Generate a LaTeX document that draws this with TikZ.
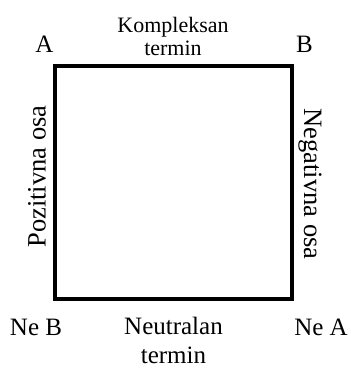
\documentclass[tikz,border=0pt]{standalone}
\usepackage{fontspec}
\setmainfont{Liberation Serif}
\usetikzlibrary{positioning}

\begin{document}
\begin{tikzpicture}[x=1pt,y=-1pt,
    corner/.style={inner sep=0pt,anchor=base,font=\fontsize{25}{30}\selectfont},
    term/.style={inner sep=0pt,anchor=base,align=center},
    axis/.style={inner sep=0pt,font=\fontsize{26.5}{30}\selectfont}]
  \useasboundingbox (0,0) rectangle (351,368);
  % the square
  \coordinate (nw) at (55,66);
  \coordinate (se) at (292,299);
  \draw[line width=4pt] (nw) rectangle (se);
  % corners
  \node[corner] (a) at (44.5,52) {A};
  \node[corner] (b) at (304.5,52) {B};
  \node[corner] (neb) at (36,335) {Ne B};
  \node[corner] (nea) at (321,335) {Ne A};
  % terms (base is the last line)
  \node[term,font=\fontsize{22}{23}\selectfont] (komp) at (173,55) {Kompleksan\\termin};
  \node[term,font=\fontsize{25}{29}\selectfont] (neut) at (173.5,363) {Neutralan\\termin};
  % axes
  \node[axis,rotate=90] (poz) at (37,176.5) {Pozitivna osa};
  \node[axis,rotate=-90] (neg) at (310,184) {Negativna osa};
\end{tikzpicture}
\end{document}
